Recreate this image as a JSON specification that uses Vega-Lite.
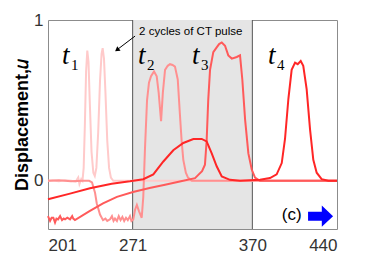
{
  "$schema": "https://vega.github.io/schema/vega-lite/v6.json",
  "width": 289,
  "height": 209,
  "autosize": {"type": "none"},
  "padding": {"left": 48, "top": 20, "right": 37, "bottom": 51},
  "config": {
    "view": {"stroke": "#8c8c8c", "strokeWidth": 1},
    "font": "Liberation Sans",
    "axis": {"grid": false, "ticks": false, "domain": false, "labelFontSize": 17, "labelColor": "#333333", "labelFont": "Liberation Sans"}
  },
  "datasets": {
    "curves": [
      {"x": 201, "y": 0, "s": "t1"}, {"x": 205, "y": 0.002, "s": "t1"}, {"x": 210, "y": -0.003, "s": "t1"}, {"x": 215, "y": 0.003, "s": "t1"}, {"x": 220, "y": 0, "s": "t1"}, {"x": 224, "y": -0.005, "s": "t1"}, {"x": 226, "y": 0.02, "s": "t1"}, {"x": 227, "y": -0.02, "s": "t1"}, {"x": 228.5, "y": 0.01, "s": "t1"}, {"x": 229.5, "y": 0.0, "s": "t1"}, {"x": 230.5, "y": 0.08, "s": "t1"}, {"x": 231.5, "y": 0.35, "s": "t1"}, {"x": 232.5, "y": 0.68, "s": "t1"}, {"x": 233.5, "y": 0.81, "s": "t1"}, {"x": 234.5, "y": 0.74, "s": "t1"}, {"x": 235.5, "y": 0.5, "s": "t1"}, {"x": 237, "y": 0.18, "s": "t1"}, {"x": 238.5, "y": 0.05, "s": "t1"}, {"x": 239.7, "y": 0.03, "s": "t1"}, {"x": 241, "y": 0.08, "s": "t1"}, {"x": 242.5, "y": 0.3, "s": "t1"}, {"x": 244, "y": 0.62, "s": "t1"}, {"x": 245.3, "y": 0.79, "s": "t1"}, {"x": 246.2, "y": 0.825, "s": "t1"}, {"x": 247.3, "y": 0.76, "s": "t1"}, {"x": 248.5, "y": 0.55, "s": "t1"}, {"x": 250, "y": 0.25, "s": "t1"}, {"x": 251.5, "y": 0.08, "s": "t1"}, {"x": 253, "y": 0.02, "s": "t1"}, {"x": 255, "y": 0.0, "s": "t1"}, {"x": 300, "y": 0.0, "s": "t1"}, {"x": 440, "y": 0.0, "s": "t1"},

      {"x": 201, "y": 0, "s": "t2"}, {"x": 210, "y": 0.003, "s": "t2"}, {"x": 220, "y": -0.003, "s": "t2"}, {"x": 230, "y": 0.0, "s": "t2"}, {"x": 235, "y": 0.0, "s": "t2"}, {"x": 237.4, "y": -0.01, "s": "t2"}, {"x": 239.9, "y": -0.075, "s": "t2"}, {"x": 241.3, "y": -0.14, "s": "t2"}, {"x": 244, "y": -0.21, "s": "t2"}, {"x": 246.5, "y": -0.245, "s": "t2"}, {"x": 248.5, "y": -0.235, "s": "t2"}, {"x": 250, "y": -0.25, "s": "t2"}, {"x": 252.3, "y": -0.24, "s": "t2"}, {"x": 253.9, "y": -0.22, "s": "t2"}, {"x": 255.2, "y": -0.25, "s": "t2"}, {"x": 256.4, "y": -0.235, "s": "t2"}, {"x": 258, "y": -0.25, "s": "t2"}, {"x": 259.5, "y": -0.22, "s": "t2"}, {"x": 261, "y": -0.245, "s": "t2"}, {"x": 262.5, "y": -0.225, "s": "t2"}, {"x": 264, "y": -0.25, "s": "t2"}, {"x": 265.5, "y": -0.23, "s": "t2"}, {"x": 267, "y": -0.245, "s": "t2"}, {"x": 268.8, "y": -0.22, "s": "t2"}, {"x": 270, "y": -0.25, "s": "t2"}, {"x": 271.5, "y": -0.24, "s": "t2"}, {"x": 273, "y": -0.18, "s": "t2"}, {"x": 274.5, "y": -0.15, "s": "t2"}, {"x": 276.3, "y": -0.19, "s": "t2"}, {"x": 278.5, "y": -0.23, "s": "t2"}, {"x": 279.8, "y": -0.1, "s": "t2"}, {"x": 281.2, "y": 0.2, "s": "t2"}, {"x": 282.9, "y": 0.5, "s": "t2"}, {"x": 284.5, "y": 0.61, "s": "t2"}, {"x": 286.2, "y": 0.65, "s": "t2"}, {"x": 288.7, "y": 0.68, "s": "t2"}, {"x": 290.9, "y": 0.65, "s": "t2"}, {"x": 292.5, "y": 0.55, "s": "t2"}, {"x": 294.5, "y": 0.37, "s": "t2"}, {"x": 296, "y": 0.55, "s": "t2"}, {"x": 297.8, "y": 0.69, "s": "t2"}, {"x": 300, "y": 0.715, "s": "t2"}, {"x": 301.9, "y": 0.725, "s": "t2"}, {"x": 304, "y": 0.72, "s": "t2"}, {"x": 306, "y": 0.71, "s": "t2"}, {"x": 308.3, "y": 0.63, "s": "t2"}, {"x": 310.2, "y": 0.4, "s": "t2"}, {"x": 311.5, "y": 0.25, "s": "t2"}, {"x": 312.9, "y": 0.13, "s": "t2"}, {"x": 315, "y": 0.05, "s": "t2"}, {"x": 316.8, "y": 0.02, "s": "t2"}, {"x": 320, "y": 0.0, "s": "t2"}, {"x": 440, "y": 0.0, "s": "t2"},

      {"x": 201, "y": -0.22, "s": "t3"}, {"x": 202.7, "y": -0.25, "s": "t3"}, {"x": 204, "y": -0.23, "s": "t3"}, {"x": 205.4, "y": -0.23, "s": "t3"}, {"x": 206.8, "y": -0.26, "s": "t3"}, {"x": 208, "y": -0.235, "s": "t3"}, {"x": 209.3, "y": -0.24, "s": "t3"}, {"x": 211, "y": -0.22, "s": "t3"}, {"x": 212.6, "y": -0.245, "s": "t3"}, {"x": 214, "y": -0.235, "s": "t3"}, {"x": 215.1, "y": -0.24, "s": "t3"}, {"x": 217, "y": -0.23, "s": "t3"}, {"x": 219.2, "y": -0.24, "s": "t3"}, {"x": 221, "y": -0.22, "s": "t3"}, {"x": 221.9, "y": -0.235, "s": "t3"}, {"x": 223.3, "y": -0.244, "s": "t3"}, {"x": 235, "y": -0.19, "s": "t3"}, {"x": 246.5, "y": -0.14, "s": "t3"}, {"x": 258, "y": -0.1, "s": "t3"}, {"x": 271.3, "y": -0.07, "s": "t3"}, {"x": 285, "y": -0.045, "s": "t3"}, {"x": 297.8, "y": -0.025, "s": "t3"}, {"x": 310, "y": -0.005, "s": "t3"}, {"x": 322.6, "y": 0.016, "s": "t3"}, {"x": 325.1, "y": 0.035, "s": "t3"}, {"x": 328.4, "y": 0.06, "s": "t3"}, {"x": 330.8, "y": 0.1, "s": "t3"}, {"x": 332.2, "y": 0.25, "s": "t3"}, {"x": 333.5, "y": 0.5, "s": "t3"}, {"x": 335, "y": 0.69, "s": "t3"}, {"x": 337.7, "y": 0.8, "s": "t3"}, {"x": 340.5, "y": 0.83, "s": "t3"}, {"x": 342.5, "y": 0.85, "s": "t3"}, {"x": 344.7, "y": 0.86, "s": "t3"}, {"x": 347.4, "y": 0.84, "s": "t3"}, {"x": 350.1, "y": 0.78, "s": "t3"}, {"x": 353, "y": 0.76, "s": "t3"}, {"x": 357.1, "y": 0.77, "s": "t3"}, {"x": 359.8, "y": 0.78, "s": "t3"}, {"x": 361.7, "y": 0.63, "s": "t3"}, {"x": 364, "y": 0.38, "s": "t3"}, {"x": 366.7, "y": 0.17, "s": "t3"}, {"x": 369.5, "y": 0.07, "s": "t3"}, {"x": 372.2, "y": 0.02, "s": "t3"}, {"x": 376.3, "y": 0.0, "s": "t3"}, {"x": 440, "y": 0.0, "s": "t3"},

      {"x": 201, "y": -0.115, "s": "t4"}, {"x": 219.2, "y": -0.08, "s": "t4"}, {"x": 235.7, "y": -0.047, "s": "t4"}, {"x": 253.7, "y": -0.018, "s": "t4"}, {"x": 268.8, "y": -0.003, "s": "t4"}, {"x": 279.8, "y": 0.01, "s": "t4"}, {"x": 288.1, "y": 0.04, "s": "t4"}, {"x": 296.4, "y": 0.12, "s": "t4"}, {"x": 304.6, "y": 0.19, "s": "t4"}, {"x": 312.9, "y": 0.235, "s": "t4"}, {"x": 321.2, "y": 0.26, "s": "t4"}, {"x": 328.1, "y": 0.26, "s": "t4"}, {"x": 332.2, "y": 0.245, "s": "t4"}, {"x": 336.4, "y": 0.17, "s": "t4"}, {"x": 340.5, "y": 0.09, "s": "t4"}, {"x": 344.7, "y": 0.027, "s": "t4"}, {"x": 351.5, "y": 0.006, "s": "t4"}, {"x": 359.8, "y": 0.0, "s": "t4"}, {"x": 376.3, "y": 0.006, "s": "t4"}, {"x": 384.6, "y": 0.017, "s": "t4"}, {"x": 390.1, "y": 0.04, "s": "t4"}, {"x": 394.3, "y": 0.11, "s": "t4"}, {"x": 397.0, "y": 0.26, "s": "t4"}, {"x": 399.8, "y": 0.51, "s": "t4"}, {"x": 402.5, "y": 0.69, "s": "t4"}, {"x": 405.3, "y": 0.735, "s": "t4"}, {"x": 407.5, "y": 0.725, "s": "t4"}, {"x": 410.0, "y": 0.745, "s": "t4"}, {"x": 412.1, "y": 0.715, "s": "t4"}, {"x": 414.9, "y": 0.57, "s": "t4"}, {"x": 417.7, "y": 0.32, "s": "t4"}, {"x": 420.4, "y": 0.13, "s": "t4"}, {"x": 423.2, "y": 0.05, "s": "t4"}, {"x": 427.3, "y": 0.01, "s": "t4"}, {"x": 432.8, "y": 0.0, "s": "t4"}, {"x": 440, "y": 0.0, "s": "t4"}
    ],
    "tlabels": [
      {"x": 212.6, "y": 0.725, "t": "t"},
      {"x": 275.4, "y": 0.725, "t": "t"},
      {"x": 320.1, "y": 0.725, "t": "t"},
      {"x": 382.9, "y": 0.725, "t": "t"}
    ],
    "sublabels": [
      {"x": 220.1, "y": 0.69, "t": "1"},
      {"x": 282.9, "y": 0.69, "t": "2"},
      {"x": 327.6, "y": 0.69, "t": "3"},
      {"x": 390.4, "y": 0.69, "t": "4"}
    ]
  },
  "layer": [
    {
      "data": {"values": [{"a": 271, "b": 370}]},
      "mark": {"type": "rect", "fill": "#e5e5e5"},
      "encoding": {
        "x": {"field": "a", "type": "quantitative", "scale": {"domain": [201, 440], "nice": false, "zero": false}, "axis": {"values": [201, 271, 370, 440], "title": null, "labelPadding": 8}},
        "x2": {"field": "b"}
      }
    },
    {
      "data": {"values": [{"a": 271}, {"a": 370}]},
      "mark": {"type": "rule", "color": "#555555", "strokeWidth": 1},
      "encoding": {"x": {"field": "a", "type": "quantitative"}}
    },
    {
      "data": {"name": "curves"},
      "mark": {"type": "line", "strokeWidth": 2},
      "encoding": {
        "x": {"field": "x", "type": "quantitative"},
        "y": {"field": "y", "type": "quantitative", "scale": {"domain": [-0.3, 1], "nice": false, "zero": false}, "axis": {"values": [0, 1], "format": "d", "title": "Displacement,𝑢", "titleFontSize": 18, "titleFontWeight": "bold", "titleColor": "#000000", "titleFont": "Liberation Sans", "titlePadding": 2, "labelPadding": 5}},
        "color": {"field": "s", "type": "nominal", "scale": {"domain": ["t1", "t2", "t3", "t4"], "range": ["#ffcaca", "#ff9090", "#ff5a5a", "#ff2626"]}, "legend": null}
      }
    },
    {
      "data": {"name": "tlabels"},
      "mark": {"type": "text", "font": "Liberation Serif", "fontStyle": "italic", "fontSize": 27, "align": "left", "baseline": "alphabetic", "color": "#000000"},
      "encoding": {
        "x": {"field": "x", "type": "quantitative"},
        "y": {"field": "y", "type": "quantitative"},
        "text": {"field": "t"}
      }
    },
    {
      "data": {"name": "sublabels"},
      "mark": {"type": "text", "font": "Liberation Serif", "fontSize": 15, "align": "left", "baseline": "alphabetic", "color": "#000000"},
      "encoding": {
        "x": {"field": "x", "type": "quantitative"},
        "y": {"field": "y", "type": "quantitative"},
        "text": {"field": "t"}
      }
    },
    {
      "data": {"values": [{"x": 276.3, "y": 0.925, "t": "2 cycles of CT pulse"}]},
      "mark": {"type": "text", "fontSize": 11.5, "align": "left", "baseline": "middle", "color": "#000000", "font": "Liberation Sans"},
      "encoding": {
        "x": {"field": "x", "type": "quantitative"},
        "y": {"field": "y", "type": "quantitative"},
        "text": {"field": "t"}
      }
    },
    {
      "data": {"values": [{"x": 273, "y": 0.9, "x2": 259, "y2": 0.82}]},
      "mark": {"type": "rule", "color": "#000000", "strokeWidth": 1},
      "encoding": {
        "x": {"field": "x", "type": "quantitative"},
        "y": {"field": "y", "type": "quantitative"},
        "x2": {"field": "x2"},
        "y2": {"field": "y2"}
      }
    },
    {
      "data": {"values": [{"x": 258.6, "y": 0.817}]},
      "mark": {"type": "point", "shape": "triangle", "filled": true, "color": "#000000", "size": 30, "angle": 233, "opacity": 1},
      "encoding": {
        "x": {"field": "x", "type": "quantitative"},
        "y": {"field": "y", "type": "quantitative"}
      }
    },
    {
      "data": {"values": [{"x": 402.5, "y": -0.21, "t": "(c)"}]},
      "mark": {"type": "text", "fontSize": 17, "align": "center", "baseline": "middle", "color": "#000000", "font": "Liberation Sans"},
      "encoding": {
        "x": {"field": "x", "type": "quantitative"},
        "y": {"field": "y", "type": "quantitative"},
        "text": {"field": "t"}
      }
    },
    {
      "data": {"values": [{"x": 426.4, "y": -0.22}]},
      "mark": {"type": "point", "shape": "M -1 -0.36 L 0.1 -0.36 L 0.1 -0.85 L 1 0 L 0.1 0.85 L 0.1 0.36 L -1 0.36 Z", "filled": true, "color": "#0000ff", "size": 625, "opacity": 1, "strokeWidth": 0},
      "encoding": {
        "x": {"field": "x", "type": "quantitative"},
        "y": {"field": "y", "type": "quantitative"}
      }
    }
  ]
}
